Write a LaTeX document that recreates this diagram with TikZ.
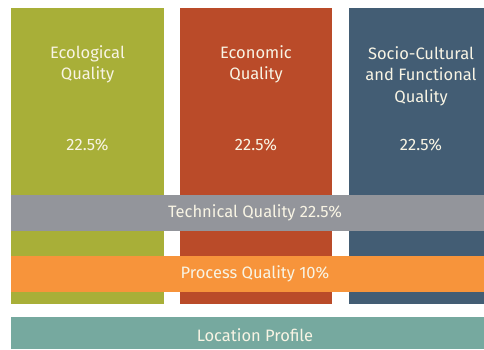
\documentclass[tikz,border=0pt]{standalone}
\usepackage{fontspec}
\setmainfont{Fira Sans}
\definecolor{cgreen}{HTML}{A8AF38}
\definecolor{cred}{HTML}{BA4B29}
\definecolor{cblue}{HTML}{435D74}
\definecolor{cgray}{HTML}{93959B}
\definecolor{corange}{HTML}{F7943B}
\definecolor{cteal}{HTML}{76A99F}
\definecolor{ctext}{HTML}{F8F4E4}
\tikzset{
  lbl/.style={text=ctext, font=\fontsize{16.5}{21.5}\selectfont, align=center, inner sep=0pt},
}
\begin{document}
\begin{tikzpicture}[x=1pt,y=-1pt]
\useasboundingbox (0,0) rectangle (484,349);
\fill[white] (0,0) rectangle (484,349);
% columns
\fill[cgreen] (11,8) rectangle (164,304);
\fill[cred] (180,8) rectangle (332,304);
\fill[cblue] (349,8) rectangle (484,304);
\node[lbl, anchor=north] (eco) at (87.5,45) {Ecological\\Quality};
\node[lbl] (ecop) at (87.5,145) {22.5\%};
\node[lbl, anchor=north] (econ) at (256,45) {Economic\\Quality};
\node[lbl] (econp) at (256,145) {22.5\%};
\node[lbl, anchor=north] (soc) at (421,46) {Socio-Cultural\\and Functional\\Quality};
\node[lbl] (socp) at (421,145) {22.5\%};
% bands
\fill[cgray] (11,195) rectangle (484,231);
\node[lbl] (tech) at (255,213) {Technical Quality 22.5\%};
\fill[corange] (11,256) rectangle (484,292);
\node[lbl] (proc) at (255,274) {Process Quality 10\%};
\fill[cteal] (11,317) rectangle (484,349);
\node[lbl] (loc) at (255,335) {Location Profile};
\end{tikzpicture}
\end{document}
